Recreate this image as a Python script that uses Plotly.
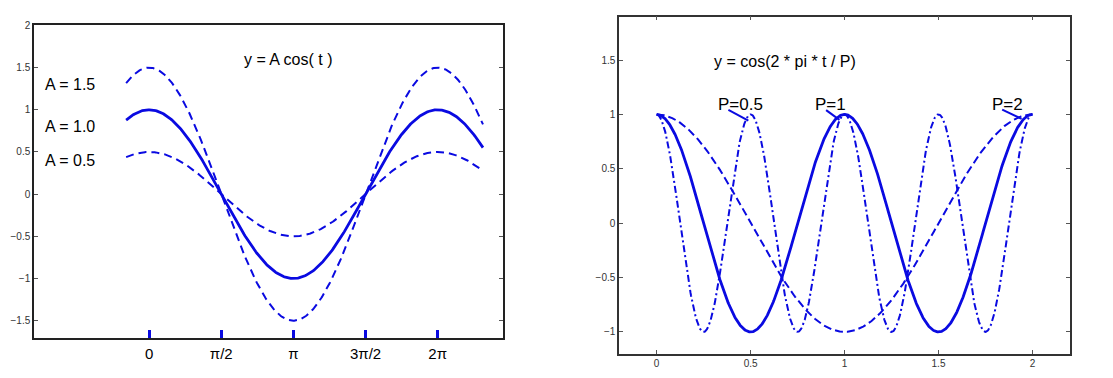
import numpy as np
import plotly.graph_objects as go

# ---------------- data ----------------
amplitudes = [1.5, 1.0, 0.5]
amp_labels = ["A = 1.5", "A = 1.0", "A = 0.5"]
amp_label_y = [1.305, 0.80, 0.397]
amp_dash = ["8px,5px", "solid", "8px,5px"]
amp_width = [2, 2.8, 2]
t_left_start, t_left_end = -0.5, 7.27

periods = [0.5, 1.0, 2.0]
period_labels = ["P=0.5", "P=1", "P=2"]
period_label_x = [0.445, 0.927, 1.866]
period_label_y = [1.095, 1.095, 1.095]
pointer_x0 = [0.382, 0.902, 1.839]
pointer_y0 = [1.041, 1.04, 1.044]
pointer_x1 = [0.488, 0.973, 1.942]
pointer_y1 = [0.944, 0.95, 0.959]
period_dash = ["7px,3px,2px,3px", "solid", "8px,4px"]
period_width = [2, 2.8, 2]
t_right_start, t_right_end = 0.0, 2.0

left_tickvals = [0, np.pi / 2, np.pi, 3 * np.pi / 2, 2 * np.pi]
left_ticktext = ["0", "π/2", "π", "3π/2", "2π"]
left_yticks = [-1.5, -1, -0.5, 0, 0.5, 1, 1.5, 2]
right_xticks = [0, 0.5, 1, 1.5, 2]
right_yticks = [-1, -0.5, 0, 0.5, 1, 1.5]

BLUE = "rgb(10,10,225)"
FONT = "Arial, Liberation Sans, sans-serif"

fig = go.Figure()

# left panel
tl = np.linspace(t_left_start, t_left_end, 400)
for A, d, w in zip(amplitudes, amp_dash, amp_width):
    fig.add_trace(go.Scatter(x=tl, y=A * np.cos(tl), mode="lines",
                             line=dict(color=BLUE, width=w, dash=d),
                             xaxis="x", yaxis="y", showlegend=False, hoverinfo="skip"))

# right panel
tr = np.linspace(t_right_start, t_right_end, 800)
for P, d, w in zip(periods, period_dash, period_width):
    fig.add_trace(go.Scatter(x=tr, y=np.cos(2 * np.pi * tr / P), mode="lines",
                             line=dict(color=BLUE, width=w, dash=d),
                             xaxis="x2", yaxis="y2", showlegend=False, hoverinfo="skip"))

annotations = []
annotations.append(dict(x=3.03, y=1.597, xref="x", yref="y", text="y = A cos( t )",
                        showarrow=False, font=dict(family=FONT, size=16, color="black")))
for lab, yy in zip(amp_labels, amp_label_y):
    annotations.append(dict(x=-2.30, y=yy, xref="x", yref="y", text=lab, xanchor="left",
                            showarrow=False, font=dict(family=FONT, size=16, color="black")))
annotations.append(dict(x=0.683, y=1.488, xref="x2", yref="y2", text="y = cos(2 * pi * t / P)",
                        showarrow=False, font=dict(family=FONT, size=16, color="black")))
for lab, xx, yy in zip(period_labels, period_label_x, period_label_y):
    annotations.append(dict(x=xx, y=yy, xref="x2", yref="y2", text=lab,
                            showarrow=False, font=dict(family=FONT, size=17, color="black")))

shapes = []
for x0, y0, x1, y1 in zip(pointer_x0, pointer_y0, pointer_x1, pointer_y1):
    shapes.append(dict(type="line", xref="x2", yref="y2", x0=x0, y0=y0, x1=x1, y1=y1,
                       line=dict(color=BLUE, width=2)))

fig.update_layout(
    width=1113, height=378,
    margin=dict(l=0, r=0, t=0, b=0),
    paper_bgcolor="white", plot_bgcolor="white",
    annotations=annotations, shapes=shapes,
    xaxis=dict(domain=[0.0308, 0.4517], range=[-2.5, 7.7], tickvals=left_tickvals,
               ticktext=left_ticktext, ticks="inside", ticklen=8, tickwidth=2.5,
               tickcolor=BLUE, showline=True, linecolor="#222", linewidth=2, mirror=True,
               showgrid=False, zeroline=False, anchor="y",
               tickfont=dict(family=FONT, size=15, color="black"), ticklabelstandoff=1),
    yaxis=dict(domain=[0.1085, 0.9452], range=[-1.7, 2], tickvals=left_yticks,
               ticks="inside", ticklen=4, tickwidth=1, tickcolor="#555",
               showline=True, linecolor="#222", linewidth=2, mirror="ticks",
               showgrid=False, zeroline=False, anchor="x",
               tickfont=dict(family=FONT, size=10, color="#333")),
    xaxis2=dict(domain=[0.5562, 0.9614], range=[-0.2, 2.2], tickvals=right_xticks,
                ticks="inside", ticklen=4, tickwidth=1, tickcolor="#555",
                showline=True, linecolor="#333", linewidth=1.5, mirror="ticks",
                showgrid=False, zeroline=False, anchor="y2",
                tickfont=dict(family=FONT, size=10, color="#333")),
    yaxis2=dict(domain=[0.0653, 0.969], range=[-1.2, 1.9], tickvals=right_yticks,
                ticks="inside", ticklen=4, tickwidth=1, tickcolor="#555",
                showline=True, linecolor="#333", linewidth=1.5, mirror="ticks",
                showgrid=False, zeroline=False, anchor="x2",
                tickfont=dict(family=FONT, size=10, color="#333")),
)

fig.write_html("out.html", config={"displayModeBar": False},
               post_script="document.body.style.margin='0px';document.body.style.overflow='hidden';")
